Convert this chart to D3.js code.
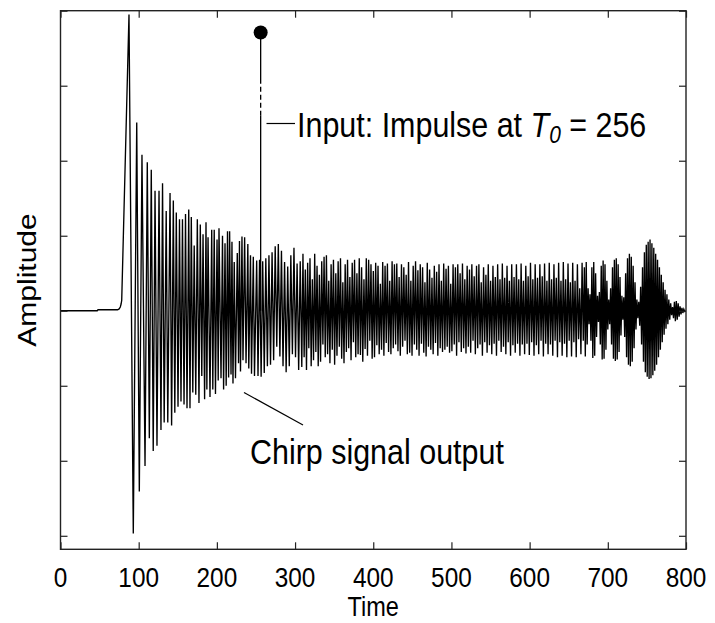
<!DOCTYPE html>
<html>
<head>
<meta charset="utf-8">
<script src="https://cdn.jsdelivr.net/npm/d3@7"></script>
<style>
  html, body { margin: 0; padding: 0; background: #fff; }
  svg { display: block; }
  text { font-family: "Liberation Sans", Arial, Helvetica, sans-serif; fill: #000; }
</style>
</head>
<body>
<svg id="chart" width="715" height="623"></svg>
<script>
// ---- axis ticks ----
const xTicks = [0, 100, 200, 300, 400, 500, 600, 700, 800];
const xTickLabels = ["0", "100", "200", "300", "400", "500", "600", "700", "800"];
const yTicks = [-3, -2, -1, 0, 1, 2, 3, 4];

// ---- filter output: quiet lead-in before the first pulse ----
const onsetTime = [0, 47, 48, 73, 75, 76.5, 77.5, 78.3];
const onsetAmp  = [0, 0, 0.013, 0.013, 0.025, 0.05, 0.09, 0.14];

// ---- filter output: large decaying oscillation (extremes with their times) ----
const decayTime = [87.6, 93.1, 97.5, 100.8, 104.2, 108.1, 111.0, 113.6, 116.1, 118.6,
  120.9, 123.4, 126.0, 128.5, 130.5, 132.6, 135.2, 137.2, 140.1, 142.1,
  144.3, 146.2, 148.1, 150.3, 152.2, 154.1, 156.0, 158.0, 159.9, 161.8,
  164.0, 165.6, 167.3, 169.2, 171.0, 173.0, 175.0, 177.1, 178.8, 180.7,
  182.3, 184.3, 186.1, 187.2, 188.7, 191.2, 193.4, 194.8, 196.6, 198.2,
  200.2, 201.7, 202.7, 205.3, 207.2, 208.6, 210.4, 211.9, 213.6, 215.0,
  216.3, 218.1, 219.3, 220.6, 222.2, 223.8, 226.1, 227.7, 228.9, 230.2,
  232.1, 233.4, 235.5, 237.3, 239.6, 240.8, 243.0, 244.3, 246.6, 248.1,
  250.9, 252.6];
const decayAmp = [3.95, -2.97, 2.51, -2.41, 2.08, -2.07, 1.98, -1.70, 1.88, -1.87,
  1.60, -1.80, 1.60, -1.59, 1.70, -1.49, 1.33, -1.49, 1.57, -1.53,
  1.47, -1.36, 1.31, -1.28, 1.22, -1.21, 1.22, -1.25, 1.29, -1.30,
  1.35, -1.30, 1.25, -1.09, 0.87, -1.12, 1.22, -1.23, 1.15, -0.87,
  1.02, -1.18, 1.18, -1.05, 0.98, -1.15, 1.08, -1.05, 1.08, -1.11,
  0.95, -0.93, 1.10, -0.90, 1.00, -1.05, 0.90, -1.00, 1.06, -0.89,
  1.06, -0.85, 0.92, -0.97, 0.65, -0.90, 0.77, -0.70, 0.93, -0.81,
  0.99, -0.66, 0.98, -0.70, 0.89, -0.77, 0.74, -0.84, 0.72, -0.87,
  0.67, -0.87];

// ---- extremes on a regular time grid after the impulse ----
const steadyStart = 254.6, steadyStep = 2;
const steadyAmp = [0.68, -0.88, 0.66, -0.83, 0.70, -0.74, 0.74, -0.72, 0.78, -0.66,
  0.86, -0.48, 0.89, -0.61, 0.80, -0.74, 0.65, -0.82, 0.59, -0.74,
  0.74, -0.58, 0.84, -0.62, 0.63, -0.79, 0.66, -0.75];

const denseStart = 310.1, denseStep = 1.5;
const denseAmp = [
  0.76, -0.62, 0.55, -0.79, 0.64, -0.50, 0.70, -0.74, 0.42, -0.66,
  0.76, -0.55, 0.60, -0.74, 0.48, -0.68, 0.66, -0.45, 0.72, -0.62,
  0.74, -0.58, 0.40, -0.70, 0.62, -0.52, 0.68, -0.72, 0.50, -0.60,
  0.66, -0.48, 0.70, -0.64, 0.38, -0.70, 0.62, -0.55, 0.68, -0.50,
  0.45, -0.66, 0.64, -0.42, 0.68, -0.62, 0.50, -0.58, 0.70, -0.59,
  0.58, -0.68, 0.42, -0.51, 0.70, -0.60, 0.68, -0.40, 0.62, -0.64,
  0.53, -0.62, 0.64, -0.46, 0.60, -0.58, 0.36, -0.52, 0.65, -0.60,
  0.60, -0.43, 0.63, -0.55, 0.40, -0.58, 0.66, -0.50, 0.62, -0.45,
  0.63, -0.54, 0.45, -0.60, 0.62, -0.48, 0.58, -0.40, 0.48, -0.58,
  0.65, -0.56, 0.40, -0.60, 0.60, -0.45, 0.66, -0.52, 0.54, -0.60,
  0.62, -0.44, 0.58, -0.56, 0.38, -0.61, 0.64, -0.48, 0.55, -0.52,
  0.44, -0.58, 0.60, -0.43, 0.52, -0.60, 0.62, -0.50, 0.40, -0.55,
  0.63, -0.52, 0.56, -0.48, 0.60, -0.56, 0.36, -0.54, 0.62, -0.45,
  0.58, -0.60, 0.62, -0.42, 0.50, -0.55, 0.63, -0.50, 0.42, -0.57,
  0.60, -0.48, 0.55, -0.56, 0.62, -0.40, 0.46, -0.58, 0.60, -0.50,
  0.62, -0.45, 0.38, -0.60, 0.58, -0.42, 0.48, -0.56, 0.62, -0.46,
  0.40, -0.58, 0.60, -0.44, 0.45, -0.60, 0.62, -0.40, 0.42, -0.55,
  0.63, -0.48, 0.44, -0.58, 0.60, -0.42, 0.40, -0.60, 0.62, -0.46,
  0.45, -0.56, 0.62, -0.44, 0.42, -0.60, 0.63, -0.45, 0.40, -0.58,
  0.60, -0.44, 0.46, -0.59, 0.64, -0.42, 0.42, -0.60, 0.62, -0.46,
  0.44, -0.58, 0.62, -0.40, 0.46, -0.61, 0.63, -0.44, 0.40, -0.58,
  0.64, -0.45, 0.42, -0.60, 0.62, -0.40, 0.44, -0.62, 0.64, -0.42,
  0.40, -0.60, 0.65, -0.44, 0.42, -0.62, 0.63, -0.40, 0.38, -0.61,
  0.64, -0.42, 0.40, -0.62, 0.62, -0.38, 0.30, -0.58, 0.64, -0.40];

// ---- wave packets at the end of the record ----
const tailStart = 670, tailStep = 1.2;
const tailAmp = [
  0.58, -0.61, 0.65, -0.45, 0.30, -0.18, 0.22, -0.40, 0.58, -0.63,
  0.65, -0.60, 0.50, -0.35, 0.20, -0.15, 0.25, -0.45, 0.60, -0.65,
  0.67, -0.64, 0.62, -0.52, 0.40, -0.25, 0.15, -0.18, 0.30, -0.45,
  0.58, -0.64, 0.68, -0.67, 0.70, -0.65, 0.62, -0.55, 0.45, -0.33,
  0.20, -0.12, 0.18, -0.35, 0.50, -0.62, 0.70, -0.72, 0.76, -0.74,
  0.72, -0.68, 0.60, -0.50, 0.38, -0.25, 0.15, -0.10, 0.12, -0.20,
  0.32, -0.45, 0.58, -0.68, 0.78, -0.82, 0.88, -0.88, 0.92, -0.91,
  0.95, -0.90, 0.90, -0.86, 0.84, -0.80, 0.76, -0.72, 0.68, -0.62,
  0.58, -0.52, 0.48, -0.42, 0.38, -0.32, 0.28, -0.24, 0.22, -0.18,
  0.15, -0.12, 0.10, -0.06, 0.05, -0.10, 0.12, -0.14, 0.13, -0.12,
  0.10, -0.08, 0.06, -0.05, 0.04, -0.03, 0.02, -0.01, 0.00];

// ---- input impulse ----
const impulseTime = 256;
const impulseAmp = 3.71;
const impulseDashFrom = 2.60, impulseDashTo = 3.09;

// ---- layout ----
const svg = d3.select("#chart");
const x = d3.scaleLinear().domain([0, 800]).range([60.5, 686]);
const y = d3.scaleLinear().domain([-3.18, 4]).range([549.3, 10.7]);
const squeeze = 0.87;   // typeface is drawn slightly condensed

// assemble the output record
const pts = [];
onsetTime.forEach((t, i) => pts.push([t, onsetAmp[i]]));
decayTime.forEach((t, i) => pts.push([t, decayAmp[i]]));
steadyAmp.forEach((v, i) => pts.push([steadyStart + i * steadyStep, v]));
denseAmp.forEach((v, i) => pts.push([denseStart + i * denseStep, v]));
tailAmp.forEach((v, i) => pts.push([tailStart + i * tailStep, v]));

const line = d3.line().x(d => x(d[0])).y(d => y(d[1]));

// impulse stem (solid / dashed / solid) and its head
const stem = svg.append("g").attr("stroke", "#000").attr("stroke-width", 1.3);
stem.append("line")
  .attr("x1", x(impulseTime)).attr("x2", x(impulseTime))
  .attr("y1", y(0)).attr("y2", y(impulseDashFrom));
stem.append("line")
  .attr("x1", x(impulseTime)).attr("x2", x(impulseTime))
  .attr("y1", y(impulseDashFrom)).attr("y2", y(impulseDashTo))
  .attr("stroke-dasharray", "5,3");
stem.append("line")
  .attr("x1", x(impulseTime)).attr("x2", x(impulseTime))
  .attr("y1", y(impulseDashTo)).attr("y2", y(impulseAmp));
svg.append("circle")
  .attr("cx", x(impulseTime)).attr("cy", y(impulseAmp)).attr("r", 7)
  .attr("fill", "#000");

// output signal
svg.append("path")
  .datum(pts)
  .attr("d", line)
  .attr("fill", "none")
  .attr("stroke", "#000")
  .attr("stroke-width", 1.35)
  .attr("stroke-linejoin", "miter");

// frame with inward ticks on all four sides
const frame = svg.append("g").attr("stroke", "#222").attr("fill", "none");
frame.append("rect")
  .attr("x", x(0)).attr("y", y(4))
  .attr("width", x(800) - x(0)).attr("height", y(-3.18) - y(4))
  .attr("stroke-width", 1.4);

const tickLen = 7;
svg.append("g").attr("transform", `translate(0,${y(-3.18)})`)
  .call(d3.axisBottom(x).tickValues(xTicks).tickSizeInner(-tickLen).tickSizeOuter(0).tickFormat(""))
  .call(g => g.select(".domain").remove());
svg.append("g").attr("transform", `translate(0,${y(4)})`)
  .call(d3.axisTop(x).tickValues(xTicks).tickSizeInner(-tickLen).tickSizeOuter(0).tickFormat(""))
  .call(g => g.select(".domain").remove());
svg.append("g").attr("transform", `translate(${x(0)},0)`)
  .call(d3.axisLeft(y).tickValues(yTicks).tickSizeInner(-tickLen).tickSizeOuter(0).tickFormat(""))
  .call(g => g.select(".domain").remove());
svg.append("g").attr("transform", `translate(${x(800)},0)`)
  .call(d3.axisRight(y).tickValues(yTicks).tickSizeInner(-tickLen).tickSizeOuter(0).tickFormat(""))
  .call(g => g.select(".domain").remove());
svg.selectAll(".tick line").attr("stroke", "#222").attr("stroke-width", 1.2);

// text helper: condensed horizontal text
function label(px, py, str, size, anchor) {
  return svg.append("text")
    .attr("transform", `translate(${px},${py}) scale(${squeeze},1)`)
    .attr("text-anchor", anchor)
    .style("font-size", size + "px")
    .text(str);
}

// tick labels
xTicks.forEach((t, i) => label(x(t), 587, xTickLabels[i], 28, "middle"));

// axis titles
label((x(0) + x(800)) / 2, 616, "Time", 27, "middle");
svg.append("text")
  .attr("transform", `translate(36,${(y(4) + y(-3.18)) / 2}) scale(${squeeze},1) rotate(-90)`)
  .attr("text-anchor", "middle")
  .style("font-size", "30px")
  .text("Amplitude");

// annotation: input impulse
svg.append("line")
  .attr("x1", 266.5).attr("x2", 295).attr("y1", 123.5).attr("y2", 123.5)
  .attr("stroke", "#000").attr("stroke-width", 1.2);
const inp = svg.append("text")
  .attr("transform", `translate(297,137) scale(${squeeze},1)`)
  .style("font-size", "35px");
inp.append("tspan").text("Input: Impulse at ");
inp.append("tspan").style("font-style", "italic").text("T");
inp.append("tspan").style("font-style", "italic").style("font-size", "24px").attr("dy", 6).text("0");
inp.append("tspan").attr("dy", -6).text(" = 256");

// annotation: chirp output
svg.append("line")
  .attr("x1", 244).attr("y1", 392.5).attr("x2", 303).attr("y2", 425)
  .attr("stroke", "#000").attr("stroke-width", 1.2);
label(250, 464, "Chirp signal output", 35, "start");
</script>
</body>
</html>
